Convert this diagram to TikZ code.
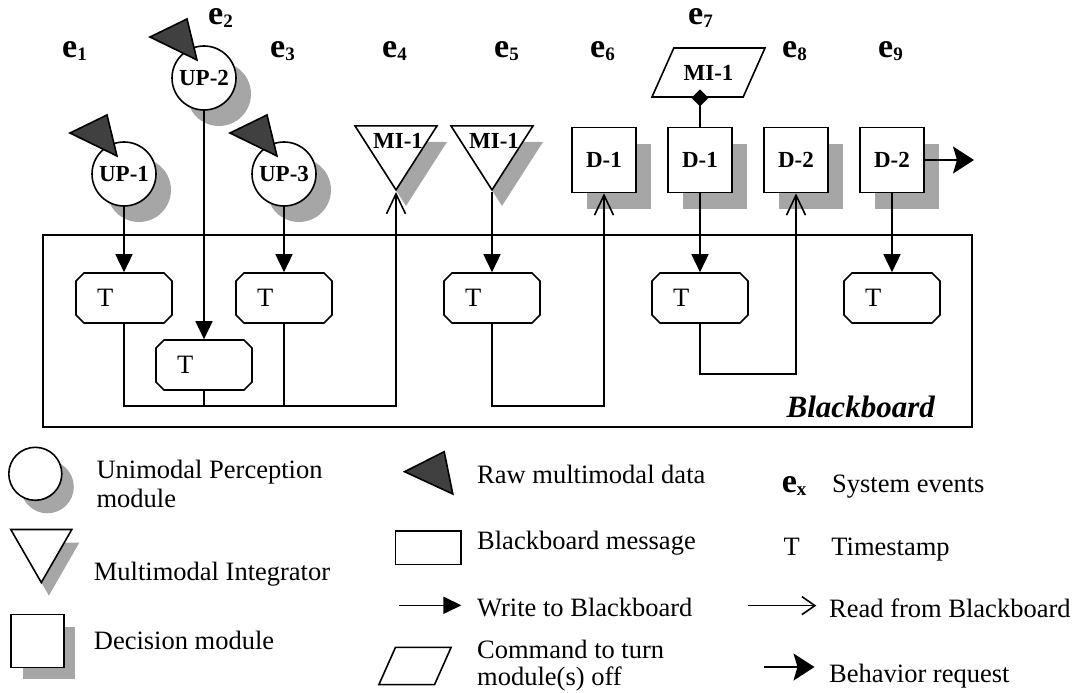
\documentclass[tikz,border=0pt]{standalone}
\usepackage{fontspec}
\setmainfont{Liberation Serif}
\usepackage{tikz}
\usetikzlibrary{arrows.meta,shapes.geometric,shapes.misc,shadows}

\newcommand{\evt}[1]{{\fontsize{34}{34}\selectfont\bfseries e\raisebox{-3pt}{\fontsize{19}{19}\selectfont #1}}}
\newcommand{\txtfont}{\fontsize{26.5}{29.3}\selectfont}
\newcommand{\lblfont}{\fontsize{23}{23}\selectfont\bfseries}

\begin{document}
\begin{tikzpicture}[x=1pt,y=-1pt,
	lw/.style={line width=1.6pt},
	shd/.style 2 args={drop shadow={shadow xshift=#1,shadow yshift=-#2,fill=black!35,opacity=1}},
	up/.style={circle,draw,lw,fill=white,minimum size=64pt,inner sep=0pt,font=\lblfont,shd={15pt}{16pt}},
	mi/.style={isosceles triangle,isosceles triangle stretches,shape border rotate=-90,draw,lw,fill=white,
		minimum width=82pt,minimum height=64pt,inner sep=0pt,anchor=apex,shd={10pt}{16pt}},
	dm/.style={rectangle,draw,lw,fill=white,minimum width=64pt,minimum height=65pt,inner sep=0pt,font=\lblfont,shd={15pt}{16pt}},
	bbm/.style={chamfered rectangle,chamfered rectangle xsep=4pt,chamfered rectangle ysep=4pt,draw,lw,fill=white,inner sep=0pt},
	msg/.style={bbm,minimum width=96pt,minimum height=50pt,text width=54pt,inner xsep=17pt,align=left,font=\txtfont},
	cmd/.style={trapezium,trapezium left angle=66,trapezium right angle=114,trapezium stretches body,draw,lw,fill=white,inner xsep=0pt},
	raw/.style={draw,lw,fill=black!75},
	wr/.style={lw,-{Triangle[length=18pt,width=17pt]}},
	rd/.style={lw,-{Straight Barb[length=20pt,width=19pt]}},
	req/.style={lw,-{Stealth[length=21pt,width=27pt,inset=4pt]}},
	ev/.style={anchor=base west,inner sep=0pt},
	txt/.style={anchor=base west,inner sep=0pt,align=left,font=\txtfont}]
	\useasboundingbox (0,0) rectangle (1074,693);

	% blackboard
	\node[draw,lw,minimum width=929pt,minimum height=192pt,inner sep=0pt] (bb) at (507.5,331) {};
	\node[anchor=base east,inner sep=0pt,font=\fontsize{31}{31}\selectfont\bfseries\itshape] (bbname) at (935,417) {Blackboard};

	% events
	\node[ev] (e1) at (62,58) {\evt{1}};
	\node[ev] (e2) at (208,25) {\evt{2}};
	\node[ev] (e3) at (270,58) {\evt{3}};
	\node[ev] (e4) at (382,58) {\evt{4}};
	\node[ev] (e5) at (494,58) {\evt{5}};
	\node[ev] (e6) at (590,58) {\evt{6}};
	\node[ev] (e7) at (688,25) {\evt{7}};
	\node[ev] (e8) at (782,58) {\evt{8}};
	\node[ev] (e9) at (878,58) {\evt{9}};

	% modules
	\node[up] (up1) at (124,174) {UP-1};
	\node[up] (up2) at (204,78) {UP-2};
	\node[up] (up3) at (284,174) {UP-3};
	\node[mi] (mi4) at (396,192) {};
	\node[mi] (mi5) at (492,192) {};
	\node[font=\lblfont,anchor=base,inner sep=0pt] (mi4t) at (398,148) {MI-1};
	\node[font=\lblfont,anchor=base,inner sep=0pt] (mi5t) at (494,148) {MI-1};
	\node[dm] (d6) at (604,160) {D-1};
	\node[dm] (d7) at (700,160) {D-1};
	\node[dm] (d8) at (796,160) {D-2};
	\node[dm] (d9) at (892,160) {D-2};
	\node[cmd,minimum width=113pt,text height=16pt,text depth=0pt,inner ysep=16.5pt,font=\lblfont] (off7) at (708.5,72.5) {MI-1};

	% raw data
	\filldraw[raw,shift={(up1.center)}] (-54,-41) -- (-17,-59) -- (-7,-18) -- cycle;
	\filldraw[raw,shift={(up2.center)}] (-54,-41) -- (-17,-59) -- (-7,-18) -- cycle;
	\filldraw[raw,shift={(up3.center)}] (-54,-41) -- (-17,-59) -- (-7,-18) -- cycle;

	% messages
	\node[msg] (t1) at (124,298) {T};
	\node[msg] (t2) at (204,365) {T};
	\node[msg] (t3) at (284,298) {T};
	\node[msg] (t4) at (492,298) {T};
	\node[msg] (t5) at (700,298) {T};
	\node[msg] (t6) at (892,298) {T};

	\coordinate (j1) at (396,406);
	\coordinate (j2) at (604,406);
	\coordinate (j3) at (796,374);
	\coordinate (out9) at (974,160);

	\draw[wr] (up1) -- (t1);
	\draw[wr] (up2) -- (t2);
	\draw[wr] (up3) -- (t3);
	\draw[rd] (t1.south) |- (j1) -- (mi4.apex);
	\draw[lw] (t2.south) -- (t2 |- j1);
	\draw[lw] (t3.south) -- (t3 |- j1);
	\draw[wr] (mi5.apex) -- (t4.north);
	\draw[rd] (t4.south) |- (j2) -- (d6.south);
	\draw[wr] (d7) -- (t5);
	\draw[rd] (t5.south) |- (j3) -- (d8.south);
	\draw[wr] (d9) -- (t6);
	\draw[req] (d9.east) -- (out9);
	\draw[lw,-{Diamond[length=17pt,width=17pt]},shorten >=-8.5pt] (d7.north) -- (d7.north |- off7.south);

	% legend
	\node[circle,draw,lw,fill=white,minimum size=53pt,inner sep=0pt,shd={12pt}{13pt}] (lgup) at (35.3,473.8) {};
	\node[txt] (lgupt) at (96.4,507.8) {Unimodal Perception\\module};
	\node[isosceles triangle,isosceles triangle stretches,shape border rotate=-90,draw,lw,fill=white,
		minimum width=61pt,minimum height=53pt,inner sep=0pt,anchor=apex,shd={7.6pt}{13pt}] (lgmi) at (41.3,584.6) {};
	\node[txt] (lgmit) at (93.7,580) {Multimodal Integrator};
	\node[rectangle,draw,lw,fill=white,minimum size=52.7pt,inner sep=0pt,shd={11.5pt}{12pt}] (lgdm) at (37.4,641) {};
	\node[txt] (lgdmt) at (93.7,649) {Decision module};

	\filldraw[raw] (404.6,471.7) -- (444.2,451.7) -- (452.8,494) -- cycle;
	\node[txt] (lgrawt) at (477,483.7) {Raw multimodal data};
	\node[bbm,minimum width=65.4pt,minimum height=33.7pt,chamfered rectangle xsep=3pt,chamfered rectangle ysep=3pt] (lgmsg) at (428,547.8) {};
	\node[txt] (lgmsgt) at (477,549) {Blackboard message};
	\coordinate (lgw1) at (399.4,605.3);
	\coordinate (lgw2) at (461.4,605.3);
	\draw[wr] (lgw1) -- (lgw2);
	\node[txt] (lgwt) at (477,616) {Write to Blackboard};
	\node[cmd,minimum width=72.2pt,text height=0pt,text depth=0pt,inner ysep=18.6pt] (lgcmd) at (415,666) {};
	\node[txt,font=\fontsize{26.5}{27.5}\selectfont] (lgcmdt) at (477,685.5) {Command to turn\\module(s) off};

	\node[ev] (lgev) at (781.6,492.9) {\evt{x}};
	\node[txt] (lgevt) at (831.9,492.9) {System events};
	\node[txt] (lgts) at (783.3,555.3) {T};
	\node[txt] (lgtst) at (831.2,555.3) {Timestamp};
	\coordinate (lgr1) at (748,605.6);
	\coordinate (lgr2) at (816.3,605.6);
	\draw[lw,-{Straight Barb[length=13pt,width=18pt]}] (lgr1) -- (lgr2);
	\node[txt] (lgrt) at (829,617.8) {Read from Blackboard};
	\coordinate (lgb1) at (764.2,667);
	\coordinate (lgb2) at (814.5,667);
	\draw[req] (lgb1) -- (lgb2);
	\node[txt] (lgbt) at (829,682) {Behavior request};
\end{tikzpicture}
\end{document}
